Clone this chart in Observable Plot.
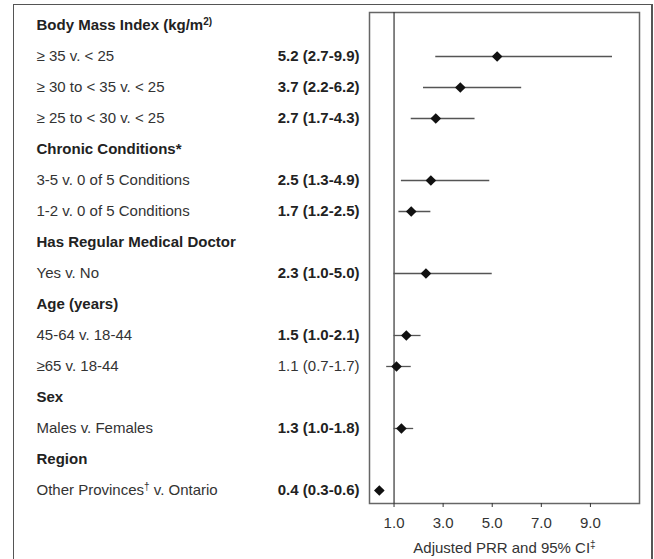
<!DOCTYPE html>
<html>
<head>
<meta charset="utf-8">
<script src="https://cdn.jsdelivr.net/npm/d3@7"></script>
<script src="https://cdn.jsdelivr.net/npm/@observablehq/plot@0.6"></script>
<style>
  html, body { margin: 0; padding: 0; background: #fff; }
  #wrap { position: relative; width: 654px; height: 559px; overflow: hidden; }
  #border { position: absolute; left: 13px; top: 4px; width: 640px; height: 600px;
            border: 1.5px solid #555; border-right-width: 2px; box-sizing: border-box; }
  #chart { position: absolute; left: 0; top: 0; }
</style>
</head>
<body>
<div id="wrap"><div id="border"></div><div id="chart"></div></div>
<script>
// ---- data ----
const labels = [
  "Body Mass Index (kg/m2)",
  "≥ 35 v. < 25",
  "≥ 30 to < 35 v. < 25",
  "≥ 25 to < 30 v. < 25",
  "Chronic Conditions*",
  "3-5 v. 0 of 5 Conditions",
  "1-2 v. 0 of 5 Conditions",
  "Has Regular Medical Doctor",
  "Yes v. No",
  "Age (years)",
  "45-64 v. 18-44",
  "≥65 v. 18-44",
  "Sex",
  "Males v. Females",
  "Region",
  "Other Provinces† v. Ontario"
];
const isHeader = [true,false,false,false,true,false,false,true,false,true,false,false,true,false,true,false];
const estimate = [null,5.2,3.7,2.7,null,2.5,1.7,null,2.3,null,1.5,1.1,null,1.3,null,0.4];
const lower    = [null,2.7,2.2,1.7,null,1.3,1.2,null,1.0,null,1.0,0.7,null,1.0,null,0.3];
const upper    = [null,9.9,6.2,4.3,null,4.9,2.5,null,5.0,null,2.1,1.7,null,1.8,null,0.6];
const significant = [null,true,true,true,null,true,true,null,true,null,true,false,null,true,null,true];
const xTicks = [1, 3, 5, 7, 9];
const xLabel = "Adjusted PRR and 95% CI‡";

// ---- build table ----
const rows = labels.map((label, i) => ({
  id: i, label, header: isHeader[i],
  est: estimate[i], lo: lower[i], hi: upper[i], sig: significant[i]
}));
const fmt = d3.format(".1f");
const est = rows.filter(d => d.est != null).map(d => ({...d, txt: `${fmt(d.est)} (${fmt(d.lo)}-${fmt(d.hi)})`}));

const plot = Plot.plot({
  width: 654,
  height: 559,
  marginLeft: 369,
  marginRight: 15,
  marginTop: 12,
  marginBottom: 56,
  style: { fontFamily: "'Liberation Sans', Arial, sans-serif", fontSize: "15px", color: "#222", background: "transparent" },
  x: { domain: [0, 11], axis: null },
  y: { type: "point", domain: rows.map(d => d.id), padding: 0.42, round: false, axis: null },
  marks: [
    Plot.frame({ stroke: "#666", strokeWidth: 1.5 }),
    Plot.ruleX([1], { stroke: "#333", strokeWidth: 1.2 }),
    Plot.ruleY(est, { y: "id", x1: "lo", x2: "hi", stroke: "#555", strokeWidth: 1.3 }),
    Plot.dot(est, { x: "est", y: "id", symbol: "diamond2", r: 4.8, fill: "#111", stroke: "none" }),
    Plot.text(rows.filter(d => d.header), { y: "id", text: "label", frameAnchor: "left", dx: -333, textAnchor: "start", fontWeight: "bold", fill: "#222" }),
    Plot.text(rows.filter(d => !d.header), { y: "id", text: "label", frameAnchor: "left", dx: -333, textAnchor: "start", fill: "#333" }),
    Plot.text(est.filter(d => d.sig), { y: "id", text: "txt", frameAnchor: "left", dx: -10, textAnchor: "end", fontWeight: "bold", fill: "#222" }),
    Plot.text(est.filter(d => !d.sig), { y: "id", text: "txt", frameAnchor: "left", dx: -10, textAnchor: "end", fill: "#333" }),
    Plot.axisX({ ticks: xTicks, tickFormat: fmt, tickSize: 4, tickPadding: 10, label: xLabel, labelAnchor: "center", labelOffset: 49, labelArrow: "none", color: "#333" })
  ]
});

// superscripts (keep text as text)
function superscript(el, marker, context) {
  const s = el.textContent;
  const j = s.indexOf(context);
  if (j < 0) return;
  const i = j + context.indexOf(marker);
  const before = s.slice(0, i), after = s.slice(i + marker.length);
  while (el.firstChild) el.removeChild(el.firstChild);
  el.appendChild(document.createTextNode(before));
  const sup = document.createElementNS("http://www.w3.org/2000/svg", "tspan");
  sup.setAttribute("font-size", "10px");
  sup.setAttribute("dy", "-5");
  sup.textContent = marker;
  el.appendChild(sup);
  if (after) {
    const rest = document.createElementNS("http://www.w3.org/2000/svg", "tspan");
    rest.setAttribute("dy", "5");
    rest.textContent = after;
    el.appendChild(rest);
  }
}
const sups = [["†", "†"], ["‡", "‡"], ["2)", "m2)"]];
plot.querySelectorAll("text").forEach(t => {
  const targets = t.querySelector("tspan") ? Array.from(t.querySelectorAll("tspan")) : [t];
  targets.forEach(el => sups.forEach(([m, c]) => { if (el.textContent.includes(c)) superscript(el, m, c); }));
});

document.getElementById("chart").appendChild(plot);
</script>
</body>
</html>
